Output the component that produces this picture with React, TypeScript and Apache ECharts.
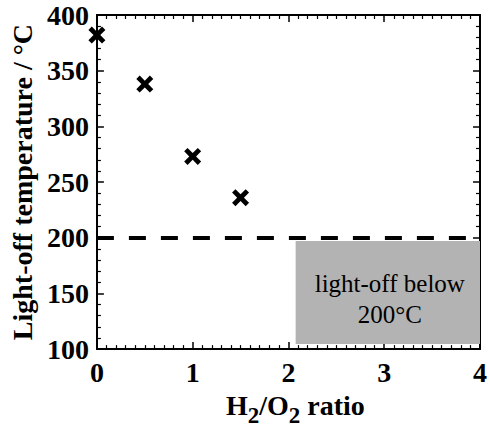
import React, { useEffect, useRef } from "react";
import * as echarts from "echarts";

const ratios = [0, 0.5, 1, 1.5];
const lightOffTemps = [382, 338, 273, 236];
const thresholdTemp = 200;
const boxXRange = [2.075, 4];
const boxYRange = [104.5, 197];
const boxLabel = "light-off below\n200°C";
const xRange = [0, 4];
const yRange = [100, 400];

const FONT = "'Liberation Serif', 'Times New Roman', serif";
const CROSS =
  "path://M0,4 L4,0 L10,6 L16,0 L20,4 L14,10 L20,16 L16,20 L10,14 L4,20 L0,16 L6,10 Z";

export default function App() {
  const ref = useRef<HTMLDivElement>(null);
  useEffect(() => {
    if (!ref.current) return;
    const chart = echarts.init(ref.current, null, { renderer: "svg" });
    const axisLine = { show: true, onZero: false, lineStyle: { color: "#000", width: 2 } };
    const tickStyle = { color: "#000", width: 1.5 };
    const labelStyle = { fontFamily: FONT, fontSize: 28, fontWeight: "bold", color: "#000" };
    const xCommon = {
      type: "value",
      min: xRange[0],
      max: xRange[1],
      interval: 1,
      axisLine,
      axisTick: { show: true, inside: true, length: 7, lineStyle: tickStyle },
      minorTick: { show: true, splitNumber: 10, length: 4, lineStyle: { color: "#000", width: 1.2 } },
      splitLine: { show: false },
    };
    const yCommon = {
      type: "value",
      min: yRange[0],
      max: yRange[1],
      interval: 50,
      axisLine,
      axisTick: { show: true, inside: true, length: 7, lineStyle: tickStyle },
      minorTick: { show: true, splitNumber: 5, length: 4, lineStyle: { color: "#000", width: 1.2 } },
      splitLine: { show: false },
    };
    chart.setOption({
      animation: false,
      backgroundColor: "#fff",
      grid: { left: 96, right: 9, top: 15, bottom: 79 },
      xAxis: [
        {
          ...xCommon,
          position: "bottom",
          axisLabel: { ...labelStyle, margin: 9 },
          name: "{b|H}{s|2}{b|/O}{s|2}{b| ratio}",
          nameLocation: "middle",
          nameGap: 40,
          nameTextStyle: {
            padding: [0, 0, 0, 14],
            rich: {
              b: { fontFamily: FONT, fontSize: 28, fontWeight: "bold", color: "#000", lineHeight: 30, verticalAlign: "top" },
              s: { fontFamily: FONT, fontSize: 23, fontWeight: "bold", color: "#000", lineHeight: 22, padding: [13, 0, 0, 0], verticalAlign: "top" },
            },
          },
        },
        { ...xCommon, position: "top", axisLabel: { show: false } },
      ],
      yAxis: [
        {
          ...yCommon,
          position: "left",
          axisLabel: { ...labelStyle, margin: 8 },
          name: "Light-off temperature / °C",
          nameLocation: "middle",
          nameGap: 60,
          nameTextStyle: { fontFamily: FONT, fontSize: 28, fontWeight: "bold", color: "#000" },
        },
        { ...yCommon, position: "right", axisLabel: { show: false } },
      ],
      series: [
        {
          type: "scatter",
          data: ratios.map((r, i) => [r, lightOffTemps[i]]),
          symbol: CROSS,
          symbolSize: 17,
          clip: false,
          itemStyle: { color: "#000", opacity: 1 },
          z: 5,
          markArea: {
            silent: true,
            itemStyle: { color: "#b3b3b3" },
            label: {
              show: true,
              position: "inside",
              formatter: boxLabel,
              fontFamily: FONT,
              fontSize: 25,
              color: "#000",
              lineHeight: 31,
              offset: [2, 6],
            },
            data: [[{ coord: [boxXRange[0], boxYRange[0]] }, { coord: [boxXRange[1], boxYRange[1]] }]],
          },
          markLine: {
            silent: true,
            symbol: ["none", "none"],
            label: { show: false },
            lineStyle: { color: "#000", width: 4, type: [17, 15] },
            data: [{ yAxis: thresholdTemp }],
          },
        },
      ],
    });
    return () => chart.dispose();
  }, []);
  return <div ref={ref} style={{ position: "fixed", left: 0, top: 0, width: 490, height: 432 }} />;
}
